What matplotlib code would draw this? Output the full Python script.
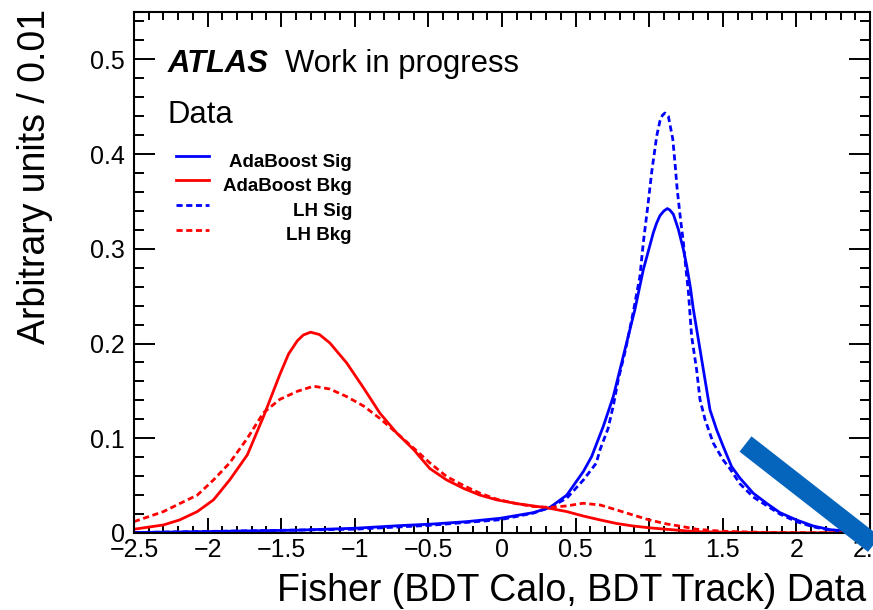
import matplotlib
matplotlib.use("Agg")
import matplotlib.pyplot as plt
from matplotlib.ticker import MultipleLocator, FixedLocator, FixedFormatter
from matplotlib.lines import Line2D

plt.rcParams['font.family'] = ['Liberation Sans', 'DejaVu Sans']

# values
ada_sig_x = [-2.5, -2.0, -1.39, -1.0, -0.693, -0.467, -0.24, -0.014, 0.213, 0.326, 0.44,
             0.553, 0.609, 0.688, 0.756, 0.824, 0.869, 0.903, 0.96, 1.028, 1.05, 1.073, 1.10,
             1.123, 1.14, 1.164, 1.198, 1.232, 1.255, 1.28, 1.30, 1.345, 1.379, 1.413, 1.458,
             1.503, 1.56, 1.616, 1.707, 1.797, 1.888, 2.0, 2.114, 2.23, 2.35, 2.5]
ada_sig_y = [0.0005, 0.0015, 0.003, 0.005, 0.0078, 0.0095, 0.012, 0.0155, 0.0215, 0.027, 0.040,
             0.065, 0.0807, 0.1125, 0.144, 0.1866, 0.2148, 0.236, 0.278, 0.317, 0.327, 0.335, 0.340,
             0.3425, 0.341, 0.3365, 0.3206, 0.2995, 0.282, 0.259, 0.236, 0.194, 0.162, 0.130, 0.109,
             0.0913, 0.070, 0.058, 0.042, 0.0314, 0.0215, 0.0138, 0.0074, 0.0035, 0.002, 0.001]

ada_bkg_x = [-2.5, -2.3, -2.19, -2.07, -1.96, -1.85, -1.73, -1.62, -1.51, -1.45, -1.39, -1.35,
             -1.30, -1.24, -1.17, -1.055, -0.94, -0.83, -0.715, -0.6, -0.49, -0.376, -0.26, -0.15,
             -0.036, 0.1, 0.213, 0.326, 0.44, 0.55, 0.666, 0.78, 0.89, 1.0, 1.12, 1.32, 1.6,
             2.0, 2.5]
ada_bkg_y = [0.004, 0.0085, 0.0138, 0.0226, 0.035, 0.056, 0.0825, 0.123, 0.167, 0.189, 0.203,
             0.209, 0.212, 0.2095, 0.2007, 0.1795, 0.153, 0.1266, 0.1055, 0.088, 0.068, 0.056,
             0.047, 0.040, 0.035, 0.031, 0.0286, 0.026, 0.0226, 0.018, 0.0138, 0.010, 0.0074,
             0.0055, 0.0039, 0.0014, 0.0006, 0.0002, 0.0001]

lh_sig_x = [-2.5, -1.0, -0.5, -0.014, 0.213, 0.326, 0.44, 0.553, 0.64, 0.666, 0.72, 0.757,
            0.79, 0.84, 0.89, 0.937, 0.96, 0.988, 1.017, 1.051, 1.073, 1.09, 1.107, 1.13, 1.16,
            1.175, 1.19, 1.213, 1.232, 1.25, 1.266, 1.288, 1.322, 1.345, 1.379, 1.435, 1.503,
            1.548, 1.616, 1.707, 1.797, 1.888, 2.0, 2.114, 2.23, 2.5]
lh_sig_y = [0.0005, 0.004, 0.008, 0.014, 0.021, 0.027, 0.0367, 0.056, 0.0737, 0.088, 0.11, 0.135,
            0.162, 0.194, 0.232, 0.271, 0.3066, 0.342, 0.381, 0.419, 0.435, 0.441, 0.4434, 0.440,
            0.416, 0.391, 0.363, 0.331, 0.307, 0.278, 0.255, 0.208, 0.1725, 0.141, 0.120, 0.095,
            0.077, 0.068, 0.052, 0.038, 0.029, 0.020, 0.012, 0.0065, 0.003, 0.001]

lh_bkg_x = [-2.5, -2.3, -2.19, -2.07, -1.96, -1.85, -1.73, -1.62, -1.51, -1.39, -1.28, -1.17,
            -1.055, -0.94, -0.83, -0.715, -0.6, -0.49, -0.376, -0.26, -0.15, -0.036, 0.1, 0.213,
            0.326, 0.44, 0.55, 0.666, 0.78, 0.89, 1.0, 1.12, 1.23, 1.32, 1.5, 1.8, 2.2, 2.5]
lh_bkg_y = [0.012, 0.0226, 0.031, 0.040, 0.056, 0.074, 0.100, 0.127, 0.141, 0.1496, 0.155, 0.152,
            0.144, 0.134, 0.121, 0.1055, 0.0896, 0.074, 0.0596, 0.05, 0.042, 0.0357, 0.031, 0.028,
            0.027, 0.0286, 0.0314, 0.0296, 0.0243, 0.019, 0.0138, 0.0095, 0.0067, 0.004, 0.0018,
            0.0006, 0.0002, 0.0001]

series_labels = ['AdaBoost Sig', 'AdaBoost Bkg', 'LH Sig', 'LH Bkg']
xtick_vals = [-2.5, -2, -1.5, -1, -0.5, 0, 0.5, 1, 1.5, 2, 2.5]
xtick_labels = ['\u22122.5', '\u22122', '\u22121.5', '\u22121', '\u22120.5', '0', '0.5', '1', '1.5', '2', '2.5']
ytick_vals = [0, 0.1, 0.2, 0.3, 0.4, 0.5]
ytick_labels = ['0', '0.1', '0.2', '0.3', '0.4', '0.5']

W, H = 873, 610
fig = plt.figure(figsize=(W / 100, H / 100), dpi=100)
ax = fig.add_axes([134 / W, 77 / H, 736 / W, 521 / H])

blue = (0, 0, 1)
red = (1, 0, 0)
dash = (2.2, 1.3)
ax.plot(ada_sig_x, ada_sig_y, color=blue, lw=2.0)
ax.plot(ada_bkg_x, ada_bkg_y, color=red, lw=2.0)
ax.plot(lh_sig_x, lh_sig_y, color=blue, lw=2.0, ls=(0, dash))
ax.plot(lh_bkg_x, lh_bkg_y, color=red, lw=2.0, ls=(0, dash))

ax.set_xlim(-2.5, 2.5)
ax.set_ylim(0, 0.55)
ax.xaxis.set_major_locator(FixedLocator(xtick_vals))
ax.xaxis.set_major_formatter(FixedFormatter(xtick_labels))
ax.xaxis.set_minor_locator(MultipleLocator(0.1))
ax.yaxis.set_major_locator(FixedLocator(ytick_vals))
ax.yaxis.set_major_formatter(FixedFormatter(ytick_labels))
ax.yaxis.set_minor_locator(MultipleLocator(0.02))

ax.tick_params(which='both', direction='in', top=True, right=True, width=1.4, labelsize=18)
ax.xaxis.set_tick_params(which='major', length=10.8, pad=3.5)
ax.xaxis.set_tick_params(which='minor', length=5.4)
ax.yaxis.set_tick_params(which='major', length=15, pad=6.5)
ax.yaxis.set_tick_params(which='minor', length=7.5)
for s in ax.spines.values():
    s.set_linewidth(1.5)

# axis titles, ROOT style (aligned to the axis ends)
fig.text(866 / W, 1 - 601 / H, 'Fisher (BDT Calo, BDT Track) Data', fontsize=27,
         ha='right', va='baseline')
fig.text(45 / W, 1 - 9 / H, 'Arbitrary units / 0.01', fontsize=27, rotation=90,
         ha='right', va='baseline', rotation_mode='anchor')


def ax_pos(px, py):
    return (px - 134) / 736, (533 - py) / 521


ax.text(*ax_pos(168, 72), 'ATLAS', transform=ax.transAxes, fontsize=22.3,
        fontweight='bold', fontstyle='italic', va='baseline')
ax.text(*ax_pos(285, 72), 'Work in progress', transform=ax.transAxes, fontsize=22.3,
        va='baseline')
ax.text(*ax_pos(168, 123), 'Data', transform=ax.transAxes, fontsize=22.3, va='baseline')

# legend drawn by hand: sample line left, bold label right-aligned
leg_styles = [(blue, '-'), (red, '-'), (blue, (0, dash)), (red, (0, dash))]
for i, (lab, (col, ls)) in enumerate(zip(series_labels, leg_styles)):
    base = 166.7 + i * 24.6
    x0, y0 = ax_pos(176, base - 11)
    x1, _ = ax_pos(209, base - 11)
    ax.add_line(Line2D([x0, x1], [y0, y0], transform=ax.transAxes, color=col, lw=2.0, ls=ls))
    ax.text(*ax_pos(352, base), lab, transform=ax.transAxes, fontsize=13.5,
            fontweight='bold', ha='right', va='baseline')

# thick blue stroke over the lower right corner
fig.add_artist(Line2D([745.5 / W, 940 / W], [1 - 444 / H, 1 - (444 + 194.5 * 0.78) / H],
                      transform=fig.transFigure, color='#0565bd', lw=14,
                      solid_capstyle='butt'))

fig.savefig('out.png', dpi=100)
